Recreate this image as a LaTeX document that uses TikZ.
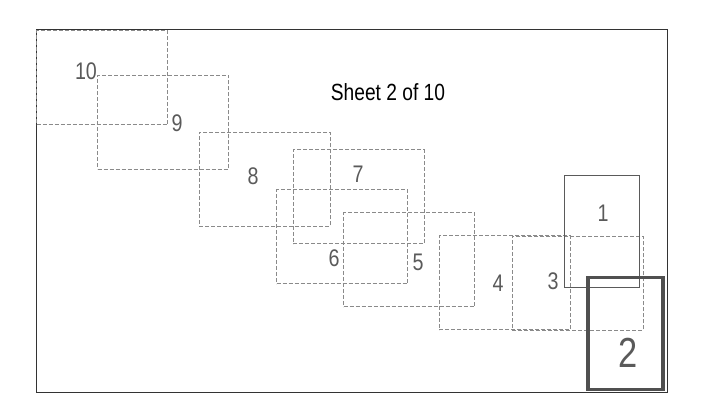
\documentclass[tikz,border=0pt]{standalone}
\usepackage{fontspec}
\setmainfont{Liberation Sans}
\newfontfamily\narrowsans[FakeStretch=0.82]{Liberation Sans}
\usetikzlibrary{positioning}
\definecolor{SheetGray}{HTML}{8A8A8A}
\definecolor{LabelGray}{HTML}{5A5A5A}
\definecolor{CurDark}{HTML}{505050}

\begin{document}
\begin{tikzpicture}[x=0.5pt, y=-0.5pt,
        sheet/.style={rectangle, draw=SheetGray, line width=0.5pt, dash pattern=on 2pt off 1pt, minimum width=65.5pt, minimum height=47pt, inner sep=0pt},
        tallsheet/.style={rectangle, draw=LabelGray, line width=0.5pt, minimum width=37.5pt, minimum height=56pt, inner sep=0pt},
        cursheet/.style={rectangle, draw=CurDark, line width=1.6pt, minimum width=37.5pt, minimum height=56pt, inner sep=0pt},
        num/.style={text=LabelGray, font=\narrowsans\fontsize{12}{14}\selectfont, inner sep=0pt}
    ]
    \useasboundingbox (0,0) rectangle (719,416);

    % Rahmen
    \node[rectangle, draw=black!80, line width=0.5pt, minimum width=315.5pt, minimum height=181.5pt, inner sep=0pt] (frame) at (351.5,211.5) {};
    \node[font=\narrowsans\fontsize{11.7}{13}\selectfont, inner sep=0pt] (title) at (388,92) {Sheet 2 of 10};

    % Blätter
    \node[sheet] (sheet10) at (102,78) {};
    \node[sheet] (sheet9) at (163,122.5) {};
    \node[sheet] (sheet8) at (264.5,179.5) {};
    \node[sheet] (sheet7) at (358.5,197) {};
    \node[sheet] (sheet6) at (342,237) {};
    \node[sheet] (sheet5) at (409,260) {};
    \node[sheet] (sheet4) at (504.5,283) {};
    \node[sheet] (sheet3) at (577.5,283.5) {};
    \node[tallsheet] (sheet1) at (601.5,232) {};
    \node[cursheet] (sheet2) at (625.5,333.5) {};

    % Nummern
    \node[num] (lbl10) at (86,71) {10};
    \node[num] (lbl9) at (177,123) {9};
    \node[num] (lbl8) at (253,176) {8};
    \node[num] (lbl7) at (358,174) {7};
    \node[num] (lbl6) at (334,258) {6};
    \node[num] (lbl5) at (418,262) {5};
    \node[num] (lbl4) at (498,283) {4};
    \node[num] (lbl3) at (553,281) {3};
    \node[num] (lbl1) at (603,213) {1};
    \node[num, font=\narrowsans\fontsize{21}{24}\selectfont] (lbl2) at (628,353) {2};

\end{tikzpicture}
\end{document}
